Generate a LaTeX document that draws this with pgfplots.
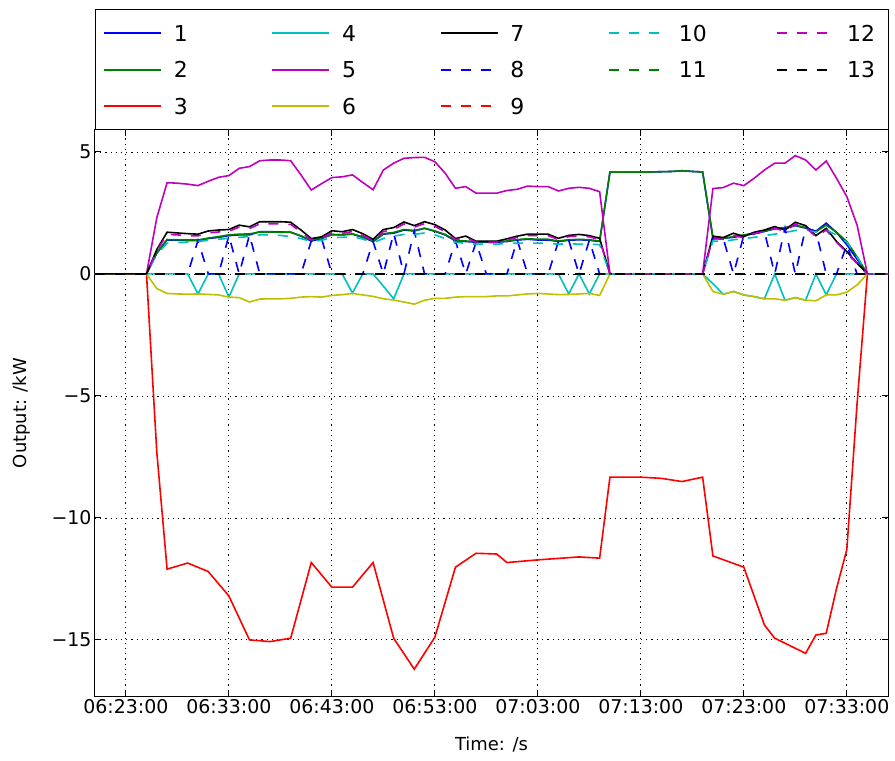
\documentclass[border=0pt]{standalone}
\usepackage{pgfplots}
\pgfplotsset{compat=1.18}
\usepackage{pgfplotstable}
\usepackage{fontspec}
\setmainfont{DejaVu Sans}

\definecolor{mb}{rgb}{0,0,1}
\definecolor{mg}{rgb}{0,0.5,0}
\definecolor{mr}{rgb}{1,0,0}
\definecolor{mc}{rgb}{0,0.75,0.75}
\definecolor{mm}{rgb}{0.75,0,0.75}
\definecolor{my}{rgb}{0.75,0.75,0}

\pgfplotstableread{
t s1 s2 s4 s5 s6 s7 s8 s10 s12
-3 0 0 0 0 0 0 0 0 0
-2 0 0 0 0 0 0 0 0 0
-1 0 0 0 0 0 0 0 0 0
0 0 0 0 0 0 0 0 0 0
1 0 0 0 0 0 0 0 0 0
2 0 0 0 0 0 0 0 0 0
3 0.85 0.87 0 2.3 -0.6 1.0 0 0.8 0.95
4 1.39 1.41 0 3.74 -0.8 1.71 0 1.26 1.62
5 1.38 1.40 0 3.72 -0.82 1.68 0 1.28 1.6
6 1.37 1.39 0 3.68 -0.83 1.65 0 1.3 1.57
7 1.37 1.39 -0.82 3.62 -0.82 1.63 1.37 1.33 1.56
8 1.45 1.47 0 3.8 -0.84 1.76 0 1.38 1.68
9 1.5 1.53 0 3.96 -0.86 1.8 0 1.42 1.72
10 1.57 1.6 -0.95 4.03 -0.95 1.82 1.57 1.46 1.75
11 1.6 1.63 0 4.33 -0.97 2.0 0 1.5 1.92
12 1.6 1.64 0 4.4 -1.15 1.93 1.6 1.53 1.86
13 1.73 1.72 0 4.64 -1.03 2.14 0 1.6 2.05
14 1.73 1.72 0 4.67 -1.02 2.14 0 1.6 2.05
15 1.72 1.71 0 4.67 -1.02 2.14 0 1.58 2.05
16 1.71 1.71 0 4.64 -1.0 2.12 0 1.53 2.03
17 1.55 1.56 0 4.06 -0.95 1.8 0 1.45 1.72
18 1.35 1.39 0 3.44 -0.93 1.45 1.35 1.33 1.4
19 1.45 1.48 0 3.7 -0.95 1.52 1.45 1.38 1.47
20 1.62 1.6 0 3.95 -0.88 1.77 0 1.49 1.68
21 1.6 1.61 0 3.98 -0.85 1.73 0 1.5 1.66
22 1.63 1.64 -0.78 4.06 -0.8 1.82 0 1.52 1.74
23 1.5 1.52 0 3.75 -0.86 1.65 0 1.43 1.58
24 1.33 1.36 0 3.45 -0.92 1.42 1.33 1.28 1.38
25 1.63 1.65 -0.5 4.26 -1.02 1.82 0 1.45 1.74
26 1.67 1.7 -1.02 4.54 -1.07 1.9 1.67 1.55 1.82
27 1.8 1.82 0 4.74 -1.15 2.13 0 1.62 2.05
28 1.76 1.78 0 4.77 -1.24 1.98 1.76 1.62 1.92
29 1.87 1.87 0 4.78 -1.08 2.14 0 1.68 2.06
30 1.75 1.76 0 4.6 -1.0 2.02 0 1.6 1.95
31 1.6 1.62 0 4.13 -1.0 1.8 0 1.45 1.73
32 1.35 1.37 0 3.51 -0.95 1.45 1.35 1.3 1.4
33 1.33 1.35 0 3.58 -0.93 1.55 0 1.25 1.5
34 1.3 1.32 0 3.31 -0.93 1.34 1.3 1.22 1.3
35 1.3 1.32 0 3.31 -0.93 1.34 0 1.22 1.3
36 1.3 1.32 0 3.31 -0.9 1.34 0 1.22 1.3
37 1.33 1.35 0 3.42 -0.9 1.44 0 1.25 1.39
38 1.39 1.41 0 3.47 -0.86 1.55 1.39 1.26 1.5
39 1.42 1.44 0 3.6 -0.82 1.63 0 1.26 1.57
40 1.39 1.42 0 3.58 -0.8 1.63 0 1.26 1.57
41 1.39 1.42 0 3.58 -0.82 1.63 0 1.25 1.57
42 1.33 1.35 0 3.40 -0.85 1.46 1.33 1.22 1.41
43 1.38 1.4 -0.82 3.51 -0.84 1.58 1.38 1.24 1.53
44 1.4 1.42 0 3.55 -0.82 1.62 0 1.22 1.56
45 1.38 1.4 -0.82 3.51 -0.8 1.57 1.38 1.22 1.52
46 1.33 1.35 0 3.37 -0.88 1.46 0 1.2 1.41
47 4.17 4.17 0 0 0 0 0 0 0
48 4.17 4.17 0 0 0 0 0 0 0
49 4.17 4.17 0 0 0 0 0 0 0
50 4.17 4.17 0 0 0 0 0 0 0
51 4.18 4.18 0 0 0 0 0 0 0
52 4.19 4.19 0 0 0 0 0 0 0
53 4.2 4.2 0 0 0 0 0 0 0
54 4.23 4.23 0 0 0 0 0 0 0
55 4.2 4.2 0 0 0 0 0 0 0
56 4.18 4.18 0 0 0 0 0 0 0
57 1.45 1.53 -0.4 3.5 -0.72 1.55 1.45 1.35 1.45
58 1.46 1.46 -0.83 3.54 -0.83 1.49 1.46 1.33 1.42
59 1.5 1.53 -0.72 3.72 -0.72 1.67 0 1.4 1.58
60 1.58 1.6 -0.86 3.62 -0.86 1.53 1.58 1.45 1.48
61 1.65 1.67 -0.93 3.92 -0.93 1.71 1.65 1.5 1.65
62 1.74 1.76 -1.02 4.26 -1.02 1.8 1.74 1.57 1.74
63 1.85 1.87 0 4.54 -1.02 1.94 0 1.63 1.88
64 1.88 1.9 -1.08 4.54 -1.08 1.8 1.88 1.7 1.74
65 1.98 2.0 -0.97 4.85 -0.97 2.12 0 1.78 2.05
66 1.88 1.9 -1.08 4.67 -1.08 1.98 1.88 1.8 1.92
67 1.75 1.73 0 4.26 -1.1 1.57 1.75 1.72 1.52
68 2.08 2.0 -0.86 4.63 -0.86 1.87 0 1.8 1.8
69 1.7 1.71 0 3.92 -0.86 1.33 0 1.6 1.3
70 1.2 1.33 0 3.17 -0.75 0.92 1.2 1.3 0.88
71 0.6 0.7 0 2.0 -0.45 0.44 0 0.7 0.42
72 0 0 0 0 0 0 0 0 0
73 0 0 0 0 0 0 0 0 0
74 0 0 0 0 0 0 0 0 0
}\maindata

\pgfplotstableread{
t y
-3 0
2 0
3 -7.3
4 -12.1
6 -11.85
8 -12.2
10 -13.2
12 -15.0
14 -15.07
16 -14.93
18 -11.83
20 -12.84
22 -12.84
24 -11.83
26 -14.93
28 -16.2
30 -14.89
32 -12.02
34 -11.45
36 -11.48
37 -11.83
40 -11.72
44 -11.6
46 -11.65
47 -8.33
50 -8.33
52 -8.38
54 -8.51
56 -8.33
57 -11.56
60 -12.02
62 -14.39
63 -14.93
66 -15.55
67 -14.8
68 -14.73
69 -12.9
70 -11.3
71 -5.3
72 0
74 0
}\reddata

\pgfplotsset{dsh/.style={dash pattern=on 10bp off 10bp}}

\begin{document}
\begin{tikzpicture}
\useasboundingbox (-95bp,-65bp) rectangle (800bp,696bp);
\begin{axis}[
  at={(0,0)}, anchor=south west,
  width=793bp, height=566bp, scale only axis,
  xmin=-3, xmax=74, ymin=-17.3, ymax=5.9,
  xtick={0,10,20,30,40,50,60,70},
  xticklabels={06:23:00,06:33:00,06:43:00,06:53:00,07:03:00,07:13:00,07:23:00,07:33:00},
  ytick={-15,-10,-5,0,5},
  yticklabels={−15,−10,−5,0,5},
  tick align=inside, major tick length=6bp, xtick pos=both, ytick pos=both,
  grid=major, grid style={black, line width=0.8bp, dash pattern=on 1.2bp off 4bp},
  axis line style={black, line width=1bp},
  tick style={black, line width=1bp},
  tick label style={font=\fontsize{19}{22}\selectfont},
  xlabel={Time: /s}, ylabel={Output: /kW},
  every axis x label/.style={at={(axis description cs:0.5,-0.0866)}, anchor=center, font=\fontsize{18}{21}\selectfont},
  every axis y label/.style={at={(axis description cs:-0.0921,0.5)}, rotate=90, anchor=center, font=\fontsize{18}{21}\selectfont},
  every axis plot/.append style={line width=1.6bp},
  legend columns=3,
  transpose legend,
  legend cell align=left,
  legend image code/.code={\draw[line width=1.6bp,#1] (0bp,0bp) -- (57bp,0bp);},
  legend style={
    at={(axis description cs:0,1)}, anchor=south west,
    draw=none, fill=none,
    inner xsep=8bp, inner ysep=10.5bp,
    font=\fontsize{22}{26}\selectfont,
    row sep=10.5bp,
    /tikz/every odd column/.append style={column sep=12bp},
    /tikz/every even column/.append style={column sep=56.75bp},
    nodes={inner sep=0pt, text width=41bp, text height=21bp, text depth=5bp},
  },
]
\addplot[mb] table[x=t, y=s1] {\maindata};
\addlegendentry{1}
\addplot[mg] table[x=t, y=s2] {\maindata};
\addlegendentry{2}
\addplot[mr] table[x=t, y=y] {\reddata};
\addlegendentry{3}
\addplot[mc] table[x=t, y=s4] {\maindata};
\addlegendentry{4}
\addplot[mm] table[x=t, y=s5] {\maindata};
\addlegendentry{5}
\addplot[my] table[x=t, y=s6] {\maindata};
\addlegendentry{6}
\addplot[black] table[x=t, y=s7] {\maindata};
\addlegendentry{7}
\addplot[mb, dsh] table[x=t, y=s8] {\maindata};
\addlegendentry{8}
\addplot[mr, dsh] coordinates {(-3,0) (74,0)};
\addlegendentry{9}
\addplot[mc, dsh] table[x=t, y=s10] {\maindata};
\addlegendentry{10}
\addplot[mg, dsh] coordinates {(-3,0) (74,0)};
\addlegendentry{11}
\addlegendimage{empty legend}
\addlegendentry{}
\addplot[mm, dsh] table[x=t, y=s12] {\maindata};
\addlegendentry{12}
\addplot[black, dsh] coordinates {(-3,0) (74,0)};
\addlegendentry{13}
\end{axis}
\draw[black, line width=1bp] (0bp,566bp) rectangle (793bp,686bp);
\end{tikzpicture}
\end{document}
